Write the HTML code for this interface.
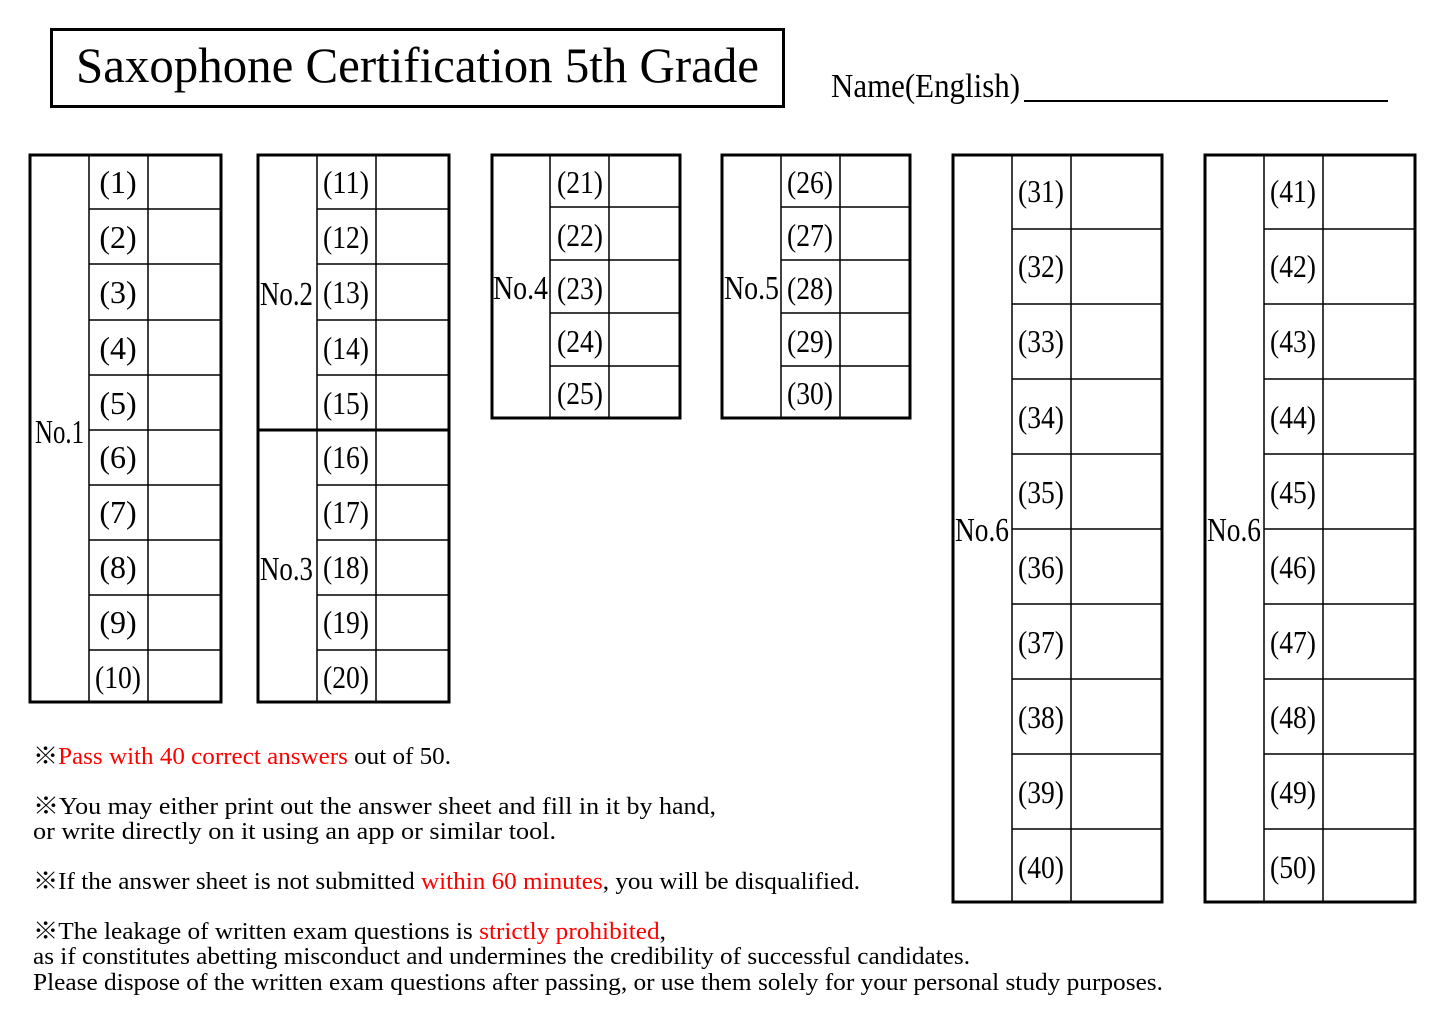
<!DOCTYPE html>
<html><head><meta charset="utf-8"><style>
html,body{margin:0;padding:0;background:#fff;width:1445px;height:1022px;overflow:hidden}
svg text{font-family:"Liberation Serif","Noto Serif CJK SC",serif;fill:#000}
</style></head><body>
<svg width="1445" height="1022" viewBox="0 0 1445 1022" xmlns="http://www.w3.org/2000/svg">
<rect x="51.5" y="29.5" width="732" height="77" fill="none" stroke="#000" stroke-width="3"/>
<text x="76" y="82" font-size="50" textLength="683" lengthAdjust="spacingAndGlyphs">Saxophone Certification 5th Grade</text>
<text x="831" y="97" font-size="34" textLength="189" lengthAdjust="spacingAndGlyphs">Name(English)</text>
<line x1="1024" y1="101" x2="1388" y2="101" stroke="#000" stroke-width="2"/>

<g fill="none" stroke="#000">
<!-- Table 1 -->
<g stroke-width="1.5">
<line x1="89" y1="154" x2="89" y2="703"/><line x1="148" y1="154" x2="148" y2="703"/>
<line x1="89" y1="209" x2="222" y2="209"/><line x1="89" y1="264" x2="222" y2="264"/><line x1="89" y1="320" x2="222" y2="320"/><line x1="89" y1="375" x2="222" y2="375"/><line x1="89" y1="430" x2="222" y2="430"/><line x1="89" y1="485" x2="222" y2="485"/><line x1="89" y1="540" x2="222" y2="540"/><line x1="89" y1="595" x2="222" y2="595"/><line x1="89" y1="650" x2="222" y2="650"/>
<!-- Table 2/3 -->
<line x1="317" y1="154" x2="317" y2="703"/><line x1="376" y1="154" x2="376" y2="703"/>
<line x1="317" y1="209" x2="450" y2="209"/><line x1="317" y1="264" x2="450" y2="264"/><line x1="317" y1="320" x2="450" y2="320"/><line x1="317" y1="375" x2="450" y2="375"/><line x1="317" y1="485" x2="450" y2="485"/><line x1="317" y1="540" x2="450" y2="540"/><line x1="317" y1="595" x2="450" y2="595"/><line x1="317" y1="650" x2="450" y2="650"/>
<!-- Table 4 -->
<line x1="550" y1="154" x2="550" y2="419"/><line x1="609" y1="154" x2="609" y2="419"/>
<line x1="550" y1="207" x2="681" y2="207"/><line x1="550" y1="260" x2="681" y2="260"/><line x1="550" y1="313" x2="681" y2="313"/><line x1="550" y1="366" x2="681" y2="366"/>
<!-- Table 5 -->
<line x1="781" y1="154" x2="781" y2="419"/><line x1="840" y1="154" x2="840" y2="419"/>
<line x1="781" y1="207" x2="911" y2="207"/><line x1="781" y1="260" x2="911" y2="260"/><line x1="781" y1="313" x2="911" y2="313"/><line x1="781" y1="366" x2="911" y2="366"/>
<!-- Table 6a -->
<line x1="1012" y1="154" x2="1012" y2="903"/><line x1="1071" y1="154" x2="1071" y2="903"/>
<line x1="1012" y1="229" x2="1163" y2="229"/><line x1="1012" y1="304" x2="1163" y2="304"/><line x1="1012" y1="379" x2="1163" y2="379"/><line x1="1012" y1="454" x2="1163" y2="454"/><line x1="1012" y1="529" x2="1163" y2="529"/><line x1="1012" y1="604" x2="1163" y2="604"/><line x1="1012" y1="679" x2="1163" y2="679"/><line x1="1012" y1="754" x2="1163" y2="754"/><line x1="1012" y1="829" x2="1163" y2="829"/>
<!-- Table 6b -->
<line x1="1264" y1="154" x2="1264" y2="903"/><line x1="1323" y1="154" x2="1323" y2="903"/>
<line x1="1264" y1="229" x2="1416" y2="229"/><line x1="1264" y1="304" x2="1416" y2="304"/><line x1="1264" y1="379" x2="1416" y2="379"/><line x1="1264" y1="454" x2="1416" y2="454"/><line x1="1264" y1="529" x2="1416" y2="529"/><line x1="1264" y1="604" x2="1416" y2="604"/><line x1="1264" y1="679" x2="1416" y2="679"/><line x1="1264" y1="754" x2="1416" y2="754"/><line x1="1264" y1="829" x2="1416" y2="829"/>
</g>
<g stroke-width="3">
<rect x="30" y="155" width="191" height="547"/>
<rect x="258" y="155" width="191" height="547"/>
<line x1="258" y1="430" x2="449" y2="430"/>
<rect x="492" y="155" width="188" height="263"/>
<rect x="722" y="155" width="188" height="263"/>
<rect x="953" y="155" width="209" height="747"/>
<rect x="1205" y="155" width="210" height="747"/>
</g>
</g>

<g font-size="32" text-anchor="middle">
<text x="118" y="193">(1)</text><text x="118" y="248">(2)</text><text x="118" y="303">(3)</text><text x="118" y="359">(4)</text><text x="118" y="414">(5)</text><text x="118" y="468">(6)</text><text x="118" y="523">(7)</text><text x="118" y="578">(8)</text><text x="118" y="633">(9)</text>
<text x="118" y="688" textLength="46" lengthAdjust="spacingAndGlyphs">(10)</text>
</g>
<g font-size="32" text-anchor="middle" lengthAdjust="spacingAndGlyphs">
<text x="346" y="193" textLength="46" lengthAdjust="spacingAndGlyphs">(11)</text><text x="346" y="248" textLength="46" lengthAdjust="spacingAndGlyphs">(12)</text><text x="346" y="303" textLength="46" lengthAdjust="spacingAndGlyphs">(13)</text><text x="346" y="359" textLength="46" lengthAdjust="spacingAndGlyphs">(14)</text><text x="346" y="414" textLength="46" lengthAdjust="spacingAndGlyphs">(15)</text><text x="346" y="468" textLength="46" lengthAdjust="spacingAndGlyphs">(16)</text><text x="346" y="523" textLength="46" lengthAdjust="spacingAndGlyphs">(17)</text><text x="346" y="578" textLength="46" lengthAdjust="spacingAndGlyphs">(18)</text><text x="346" y="633" textLength="46" lengthAdjust="spacingAndGlyphs">(19)</text><text x="346" y="688" textLength="46" lengthAdjust="spacingAndGlyphs">(20)</text>
<text x="580" y="193" textLength="46" lengthAdjust="spacingAndGlyphs">(21)</text><text x="580" y="246" textLength="46" lengthAdjust="spacingAndGlyphs">(22)</text><text x="580" y="299" textLength="46" lengthAdjust="spacingAndGlyphs">(23)</text><text x="580" y="352" textLength="46" lengthAdjust="spacingAndGlyphs">(24)</text><text x="580" y="404" textLength="46" lengthAdjust="spacingAndGlyphs">(25)</text>
<text x="810" y="193" textLength="46" lengthAdjust="spacingAndGlyphs">(26)</text><text x="810" y="246" textLength="46" lengthAdjust="spacingAndGlyphs">(27)</text><text x="810" y="299" textLength="46" lengthAdjust="spacingAndGlyphs">(28)</text><text x="810" y="352" textLength="46" lengthAdjust="spacingAndGlyphs">(29)</text><text x="810" y="404" textLength="46" lengthAdjust="spacingAndGlyphs">(30)</text>
<text x="1041" y="202" textLength="46" lengthAdjust="spacingAndGlyphs">(31)</text><text x="1041" y="277" textLength="46" lengthAdjust="spacingAndGlyphs">(32)</text><text x="1041" y="352" textLength="46" lengthAdjust="spacingAndGlyphs">(33)</text><text x="1041" y="428" textLength="46" lengthAdjust="spacingAndGlyphs">(34)</text><text x="1041" y="503" textLength="46" lengthAdjust="spacingAndGlyphs">(35)</text><text x="1041" y="578" textLength="46" lengthAdjust="spacingAndGlyphs">(36)</text><text x="1041" y="653" textLength="46" lengthAdjust="spacingAndGlyphs">(37)</text><text x="1041" y="728" textLength="46" lengthAdjust="spacingAndGlyphs">(38)</text><text x="1041" y="803" textLength="46" lengthAdjust="spacingAndGlyphs">(39)</text><text x="1041" y="878" textLength="46" lengthAdjust="spacingAndGlyphs">(40)</text>
<text x="1293" y="202" textLength="46" lengthAdjust="spacingAndGlyphs">(41)</text><text x="1293" y="277" textLength="46" lengthAdjust="spacingAndGlyphs">(42)</text><text x="1293" y="352" textLength="46" lengthAdjust="spacingAndGlyphs">(43)</text><text x="1293" y="428" textLength="46" lengthAdjust="spacingAndGlyphs">(44)</text><text x="1293" y="503" textLength="46" lengthAdjust="spacingAndGlyphs">(45)</text><text x="1293" y="578" textLength="46" lengthAdjust="spacingAndGlyphs">(46)</text><text x="1293" y="653" textLength="46" lengthAdjust="spacingAndGlyphs">(47)</text><text x="1293" y="728" textLength="46" lengthAdjust="spacingAndGlyphs">(48)</text><text x="1293" y="803" textLength="46" lengthAdjust="spacingAndGlyphs">(49)</text><text x="1293" y="878" textLength="46" lengthAdjust="spacingAndGlyphs">(50)</text>
</g>

<g font-size="34">
<text x="35" y="443" textLength="49" lengthAdjust="spacingAndGlyphs">No.1</text>
<text x="260" y="305" textLength="53" lengthAdjust="spacingAndGlyphs">No.2</text>
<text x="260" y="580" textLength="53" lengthAdjust="spacingAndGlyphs">No.3</text>
<text x="493" y="299" textLength="55" lengthAdjust="spacingAndGlyphs">No.4</text>
<text x="724" y="299" textLength="55" lengthAdjust="spacingAndGlyphs">No.5</text>
<text x="955" y="541" textLength="54" lengthAdjust="spacingAndGlyphs">No.6</text>
<text x="1207" y="541" textLength="54" lengthAdjust="spacingAndGlyphs">No.6</text>
</g>

<g font-size="24">
<text x="33" y="764" textLength="418" lengthAdjust="spacingAndGlyphs">※<tspan fill="#f00" style="fill:#f00">Pass with 40 correct answers</tspan> out of 50.</text>
<text x="33" y="814" textLength="683" lengthAdjust="spacingAndGlyphs">※You may either print out the answer sheet and fill in it by hand,</text>
<text x="33" y="839" textLength="523" lengthAdjust="spacingAndGlyphs">or write directly on it using an app or similar tool.</text>
<text x="33" y="889" textLength="827" lengthAdjust="spacingAndGlyphs">※If the answer sheet is not submitted <tspan style="fill:#f00">within 60 minutes</tspan>, you will be disqualified.</text>
<text x="33" y="939" textLength="633" lengthAdjust="spacingAndGlyphs">※The leakage of written exam questions is <tspan style="fill:#f00">strictly prohibited</tspan>,</text>
<text x="33" y="964" textLength="937" lengthAdjust="spacingAndGlyphs">as if constitutes abetting misconduct and undermines the credibility of successful candidates.</text>
<text x="33" y="990" textLength="1130" lengthAdjust="spacingAndGlyphs">Please dispose of the written exam questions after passing, or use them solely for your personal study purposes.</text>
</g>
</svg>
</body></html>
